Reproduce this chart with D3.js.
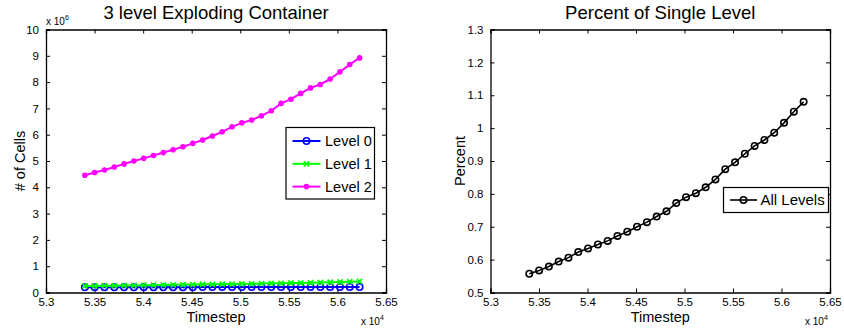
<!DOCTYPE html>
<html>
<head>
<meta charset="utf-8">
<script src="https://cdn.jsdelivr.net/npm/d3@7"></script>
<style>
  body { margin: 0; background: #fff; }
  text { font-family: "Liberation Sans", Arial, sans-serif; fill: #000; }
</style>
</head>
<body>
<div id="graphContainer"></div>
<script>
// timesteps (x axis, shared by both plots)
const timesteps = [53400, 53501, 53602, 53703, 53804, 53905, 54006, 54107, 54208, 54309,
  54410, 54511, 54612, 54713, 54814, 54915, 55016, 55117, 55218, 55319,
  55420, 55521, 55622, 55723, 55824, 55925, 56026, 56127, 56228];

// # of cells, in units of 1e6
const level0 = [0.20, 0.20, 0.20, 0.20, 0.20, 0.20, 0.20, 0.20, 0.20, 0.20,
  0.20, 0.20, 0.21, 0.21, 0.21, 0.21, 0.21, 0.21, 0.21, 0.21,
  0.21, 0.21, 0.21, 0.21, 0.21, 0.21, 0.21, 0.21, 0.21];
const level1 = [0.25, 0.25, 0.26, 0.26, 0.27, 0.27, 0.28, 0.28, 0.29, 0.29,
  0.30, 0.30, 0.31, 0.31, 0.32, 0.32, 0.33, 0.33, 0.34, 0.35,
  0.35, 0.36, 0.36, 0.37, 0.38, 0.39, 0.40, 0.41, 0.42];
const level2 = [4.46, 4.56, 4.66, 4.77, 4.89, 5.00, 5.10, 5.21, 5.32, 5.43,
  5.54, 5.67, 5.80, 5.95, 6.11, 6.30, 6.45, 6.56, 6.72, 6.91,
  7.19, 7.35, 7.57, 7.78, 7.91, 8.12, 8.39, 8.67, 8.92];

// percent of single level
const allLevels = [0.557, 0.567, 0.579, 0.594, 0.606, 0.623, 0.634, 0.646, 0.657, 0.672,
  0.685, 0.700, 0.714, 0.731, 0.747, 0.772, 0.790, 0.802, 0.820, 0.844,
  0.875, 0.896, 0.922, 0.946, 0.964, 0.986, 1.016, 1.050, 1.080];

const xTicks = [53000, 53500, 54000, 54500, 55000, 55500, 56000, 56500];
const xTickLabels = ["5.3", "5.35", "5.4", "5.45", "5.5", "5.55", "5.6", "5.65"];
const leftYTicks = [0, 1, 2, 3, 4, 5, 6, 7, 8, 9, 10];
const rightYTicks = [0.5, 0.6, 0.7, 0.8, 0.9, 1, 1.1, 1.2, 1.3];

const svg = d3.select("#graphContainer")
  .append("svg")
  .attr("width", 844)
  .attr("height", 328);

function drawPanel(opts) {
  const x = d3.scaleLinear().domain([53000, 56500]).range([opts.left, opts.right]);
  const y = d3.scaleLinear().domain(opts.yDomain).range([opts.bottom, opts.top]);
  const g = svg.append("g");
  const tickLen = 4;

  // bottom / top axes, ticks pointing inwards
  g.append("g")
    .attr("transform", "translate(0," + opts.bottom + ")")
    .call(d3.axisBottom(x).tickValues(xTicks).tickSize(-tickLen).tickPadding(5)
      .tickFormat((d, i) => xTickLabels[i]));
  g.append("g")
    .attr("transform", "translate(0," + opts.top + ")")
    .call(d3.axisTop(x).tickValues(xTicks).tickSize(-tickLen).tickFormat(""));
  // left / right axes
  g.append("g")
    .attr("transform", "translate(" + opts.left + ",0)")
    .call(d3.axisLeft(y).tickValues(opts.yTicks).tickSize(-tickLen).tickPadding(7)
      .tickFormat(d3.format(opts.yFormat)));
  g.append("g")
    .attr("transform", "translate(" + opts.right + ",0)")
    .call(d3.axisRight(y).tickValues(opts.yTicks).tickSize(-tickLen).tickFormat(""));

  g.selectAll(".domain").attr("stroke", "#000").attr("stroke-width", 1.3);
  g.selectAll(".tick line").attr("stroke", "#000").attr("stroke-width", 1);
  g.selectAll(".tick text").style("font-size", "11.5px").attr("fill", "#222");

  // title and labels
  g.append("text")
    .attr("x", (opts.left + opts.right) / 2)
    .attr("y", 19)
    .attr("text-anchor", "middle")
    .style("font-size", "18.5px")
    .text(opts.title);
  g.append("text")
    .attr("x", (opts.left + opts.right) / 2)
    .attr("y", 322)
    .attr("text-anchor", "middle")
    .style("font-size", "14.5px")
    .text("Timestep");
  g.append("text")
    .attr("transform", "translate(" + opts.yLabelX + "," + (opts.top + opts.bottom) / 2 + ") rotate(-90)")
    .attr("text-anchor", "middle")
    .style("font-size", "14.5px")
    .text(opts.yLabel);

  // x 10^4 exponent label
  const ex = g.append("text")
    .attr("x", opts.right - 25)
    .attr("y", 325)
    .style("font-size", "10px");
  ex.append("tspan").text("x 10");
  ex.append("tspan").attr("dy", -5).style("font-size", "7px").text("4");

  return { x: x, y: y, g: g };
}

function drawSeries(p, values, s) {
  const pts = values.map((v, i) => ({ t: timesteps[i], v: v }));
  const line = d3.line().x(d => p.x(d.t)).y(d => p.y(d.v));
  p.g.append("path")
    .datum(pts)
    .attr("d", line)
    .attr("fill", "none")
    .attr("stroke", s.color)
    .attr("stroke-width", s.width);
  pts.forEach(d => drawMarker(p.g, p.x(d.t), p.y(d.v), s));
}

function drawMarker(g, cx, cy, s) {
  if (s.marker === "o") {
    g.append("circle").attr("cx", cx).attr("cy", cy).attr("r", 3.2)
      .attr("fill", "none").attr("stroke", s.color).attr("stroke-width", 1.6);
  } else if (s.marker === ".") {
    g.append("circle").attr("cx", cx).attr("cy", cy).attr("r", 2.8)
      .attr("fill", s.color);
  } else if (s.marker === "x") {
    const r = 2.6;
    g.append("path")
      .attr("d", `M${cx - r},${cy - r}L${cx + r},${cy + r}M${cx - r},${cy + r}L${cx + r},${cy - r}`)
      .attr("stroke", s.color).attr("stroke-width", 1.6);
  }
}

function drawLegend(g, box, entries) {
  g.append("rect")
    .attr("x", box.x).attr("y", box.y)
    .attr("width", box.w).attr("height", box.h)
    .attr("fill", "#fff").attr("stroke", "#000").attr("stroke-width", 1.2);
  entries.forEach((s, i) => {
    const yy = box.y + box.first + i * box.step;
    g.append("line")
      .attr("x1", box.x + box.lx1).attr("x2", box.x + box.lx2)
      .attr("y1", yy).attr("y2", yy)
      .attr("stroke", s.color).attr("stroke-width", s.width);
    drawMarker(g, box.x + (box.lx1 + box.lx2) / 2, yy, s);
    g.append("text")
      .attr("x", box.x + box.tx).attr("y", yy + 5)
      .style("font-size", box.fontSize)
      .text(s.name);
  });
}

// ---- left plot
const left = drawPanel({
  left: 46, right: 386, top: 29.5, bottom: 292.5,
  yDomain: [0, 10], yTicks: leftYTicks, yFormat: "d",
  title: "3 level Exploding Container", yLabel: "# of Cells", yLabelX: 24.5
});
const leftSeries = [
  { name: "Level 0", values: level0, color: "#0000ff", marker: "o", width: 2 },
  { name: "Level 1", values: level1, color: "#00ff00", marker: "x", width: 2 },
  { name: "Level 2", values: level2, color: "#ff00ff", marker: ".", width: 2 }
];
leftSeries.forEach(s => drawSeries(left, s.values, s));

// x 10^6 label
const e6 = left.g.append("text").attr("x", 46).attr("y", 25).style("font-size", "10px");
e6.append("tspan").text("x 10");
e6.append("tspan").attr("dy", -5).style("font-size", "7px").text("6");

drawLegend(left.g, { x: 286, y: 127.5, w: 88.5, h: 71.5, first: 13.5, step: 22.8,
  lx1: 6.5, lx2: 34.5, tx: 39, fontSize: "14.5px" }, leftSeries);

// ---- right plot
const right = drawPanel({
  left: 490.5, right: 830, top: 29.5, bottom: 292.5,
  yDomain: [0.5, 1.3], yTicks: rightYTicks, yFormat: "",
  title: "Percent of Single Level", yLabel: "Percent", yLabelX: 465
});
const rightSeries = [
  { name: "All Levels", values: allLevels, color: "#000", marker: "o", width: 1.6 }
];
rightSeries.forEach(s => drawSeries(right, s.values, s));
drawLegend(right.g, { x: 723.5, y: 187.5, w: 105, h: 25, first: 12.5, step: 0,
  lx1: 6.5, lx2: 33.5, tx: 37, fontSize: "15px" }, rightSeries);
</script>
</body>
</html>
